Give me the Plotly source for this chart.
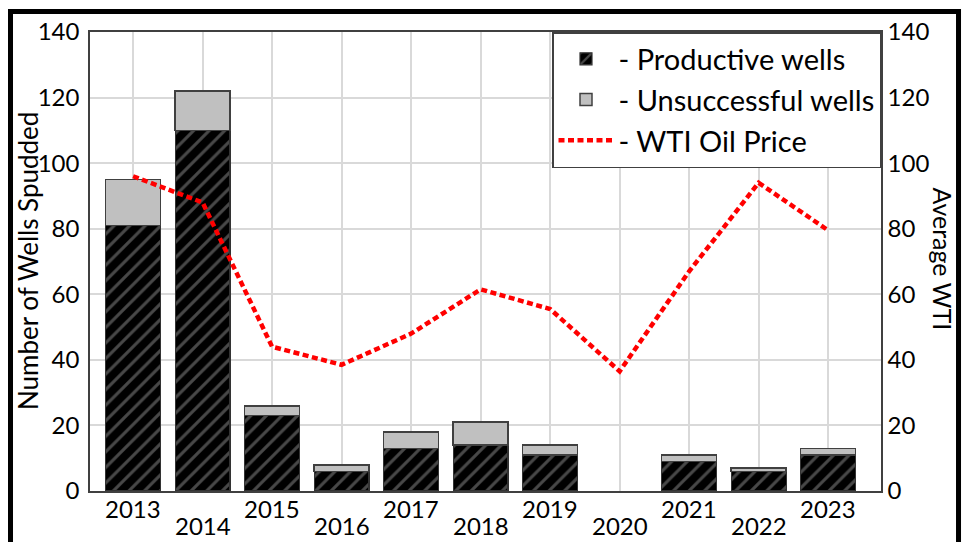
import plotly.graph_objects as go

years = ["2013", "2014", "2015", "2016", "2017", "2018", "2019", "2020", "2021", "2022", "2023"]
productive = [81, 110, 23, 6, 13, 14, 11, 0, 9, 6, 11]
unsuccessful = [14, 12, 3, 2, 5, 7, 3, 0, 2, 1, 2]
wti = [96, 88, 44, 38.5, 48, 61.5, 55.5, 36.5, 67, 94, 79.5]
y_ticks = [0, 20, 40, 60, 80, 100, 120, 140]

FONT = "Lato"
AX = "#404040"
GRID = "#d9d9d9"
idx = list(range(len(years)))

fig = go.Figure()
fig.add_trace(go.Bar(
    x=idx, y=productive, name="- Productive wells", width=0.79,
    marker=dict(color="black",
                line=dict(color="#333333", width=[1.2 if v else 0 for v in productive]),
                pattern=dict(shape="/", fgcolor="#909090", bgcolor="black", size=11, solidity=0.28)),
))
fig.add_trace(go.Bar(
    x=idx, y=unsuccessful, name="- Unsuccessful wells", width=0.79,
    marker=dict(color="#c0c0c0",
                line=dict(color="#404040", width=[1.5 if v else 0 for v in unsuccessful])),
))
fig.add_trace(go.Scatter(
    x=idx, y=wti, name="- WTI Oil Price", mode="lines", yaxis="y2",
    line=dict(color="#ff0000", width=4.5, dash="6px,3.5px"),
))

annotations = []
for i, yr in enumerate(years):
    annotations.append(dict(
        x=i, xref="x", y=(-0.039 if i % 2 == 0 else -0.075), yref="paper",
        text=yr, showarrow=False, yanchor="middle", xanchor="center",
        font=dict(size=24, color="black", family=FONT),
    ))
annotations.append(dict(
    x=-0.0784, y=0.501, xref="paper", yref="paper", text="Number of Wells Spudded",
    showarrow=False, textangle=-90, font=dict(size=26, color="black", family=FONT),
    xanchor="center", yanchor="middle",
))
annotations.append(dict(
    x=1.078, y=0.505, xref="paper", yref="paper", text="Average WTI",
    showarrow=False, textangle=90, font=dict(size=25, color="black", family=FONT),
    xanchor="center", yanchor="middle",
))

fig.update_layout(
    width=964, height=542,
    margin=dict(l=90, r=83, t=32, b=51),
    paper_bgcolor="white", plot_bgcolor="white",
    barmode="stack",
    font=dict(family=FONT, size=24, color="black"),
    showlegend=True,
    legend=dict(
        x=1, xanchor="right", y=1, yanchor="top",
        bgcolor="white", bordercolor=AX, borderwidth=1.5,
        font=dict(size=29, family=FONT, color="black"),
        traceorder="normal", itemwidth=55,
    ),
    xaxis=dict(
        range=[-0.62, 10.76], tickvals=idx,
        showgrid=True, gridcolor=GRID, gridwidth=2,
        showline=True, linecolor=AX, linewidth=1.5, mirror=True,
        showticklabels=False, ticks="", zeroline=False,
    ),
    yaxis=dict(
        range=[0, 140], tickvals=y_ticks,
        showgrid=True, gridcolor=GRID, gridwidth=2,
        showline=True, linecolor=AX, linewidth=1.5,
        ticks="", ticklabelstandoff=4,
        tickfont=dict(size=24, color="black", family=FONT),
        zeroline=False,
    ),
    yaxis2=dict(
        overlaying="y", side="right", range=[0, 140], tickvals=y_ticks,
        showgrid=False, showline=True, linecolor=AX, linewidth=1.5,
        ticks="", tickfont=dict(size=24, color="black", family=FONT),
        zeroline=False,
    ),
    annotations=annotations,
    shapes=[dict(
        type="rect", xref="paper", yref="paper",
        x0=-0.1005, x1=1.098, y0=-0.3, y1=1.0447,
        line=dict(color="black", width=5), fillcolor="rgba(0,0,0,0)", layer="above",
    )],
)

fig.write_html(
    "out.html",
    config={"displayModeBar": False},
    post_script="document.body.style.margin='0';document.body.style.overflow='hidden';",
)
